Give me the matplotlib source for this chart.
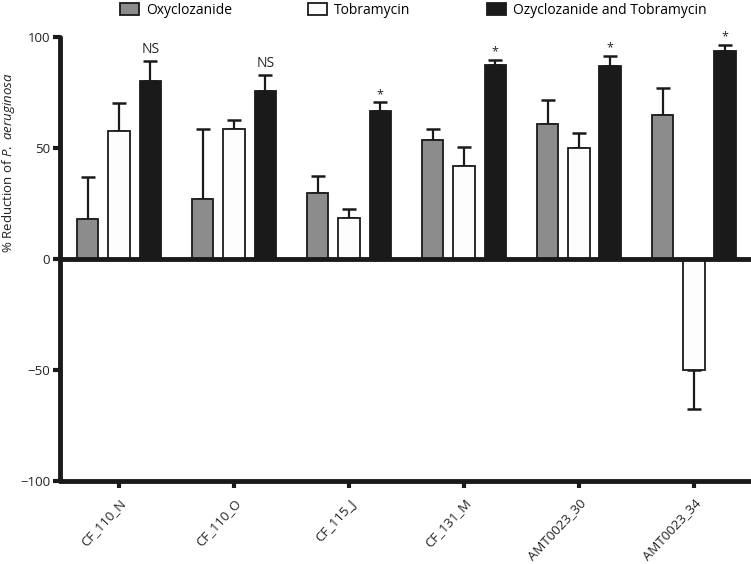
import numpy as np
import matplotlib
matplotlib.use("Agg")
import matplotlib.pyplot as plt
from matplotlib.transforms import ScaledTranslation

plt.rcParams["font.family"] = ["Open Sans", "DejaVu Sans"]
plt.rcParams["mathtext.fontset"] = "custom"
plt.rcParams["mathtext.rm"] = "Open Sans"
plt.rcParams["mathtext.it"] = "Open Sans:italic"

# data
strains = ["CF_110_N", "CF_110_O", "CF_115_J", "CF_131_M", "AMT0023_30", "AMT0023_34"]
series = ["Oxyclozanide", "Tobramycin", "Ozyclozanide and Tobramycin"]
oxy_mean = [18.2, 27.0, 29.8, 53.7, 60.6, 64.7]
oxy_err = [18.8, 31.5, 7.8, 4.7, 10.9, 12.2]
tob_mean = [57.5, 58.5, 18.4, 41.7, 50.0, -49.8]
tob_err = [12.8, 4.1, 3.9, 8.9, 6.6, 17.6]
comb_mean = [80.4, 75.8, 66.8, 87.6, 87.1, 93.8]
comb_err = [9.0, 7.2, 3.8, 2.2, 4.4, 2.7]
signif = ["NS", "NS", "*", "*", "*", "*"]

colors = ["#8c8c8c", "#fdfdfd", "#1a1a1a"]
edge = "#1a1a1a"
txt = "#222222"

fig = plt.figure(figsize=(7.51, 5.64), dpi=100)
ax = fig.add_axes([60 / 751, 83 / 564, 691 / 751, 444 / 564])

x = np.arange(len(strains))
step = 0.272
width = 0.187
means = [oxy_mean, tob_mean, comb_mean]
errs = [oxy_err, tob_err, comb_err]

for k in range(3):
    pos = x + (k - 1) * step
    m = np.array(means[k])
    e = np.array(errs[k])
    ax.bar(pos, m, width, color=colors[k], edgecolor=edge, linewidth=1.3,
           label=series[k], zorder=3)
    lower = np.where(m < 0, e, 0)
    upper = np.where(m >= 0, e, 0)
    ax.errorbar(pos, m, yerr=[lower, upper], fmt="none", ecolor=edge,
                elinewidth=1.6, capsize=5, capthick=1.8, zorder=2, clip_on=False)

# significance labels above the combination bars
for i, s in enumerate(signif):
    top = comb_mean[i] + comb_err[i]
    if s == "NS":
        ax.text(x[i] + step, top + 1.5, s, ha="center", va="bottom", fontsize=10, color=txt)
    else:
        ax.text(x[i] + step, top + 0.5, s, ha="center", va="bottom", fontsize=9, color=txt)

ax.axhline(0, color=edge, linewidth=3.5, zorder=4, solid_capstyle="butt")

ax.set_xlim(-0.513, 5.496)
ax.set_ylim(-100, 100)
ax.set_yticks([-100, -50, 0, 50, 100])
ax.set_xticks(x)
ax.set_xticklabels(strains, rotation=47, ha="right", va="top", rotation_mode="anchor")
shift = ScaledTranslation(4 / 100, 0, fig.dpi_scale_trans)
for lab in ax.get_xticklabels():
    lab.set_transform(lab.get_transform() + shift)

for side in ["top", "right"]:
    ax.spines[side].set_visible(False)
for side in ["left", "bottom"]:
    ax.spines[side].set_linewidth(3.5)
    ax.spines[side].set_color(edge)
    ax.spines[side].set_capstyle("round")

ax.tick_params(axis="y", length=5, width=3, color=edge, labelsize=9.5,
               labelcolor=txt, pad=2)
ax.tick_params(axis="x", length=5, width=3, color=edge, labelsize=9.5,
               labelcolor=txt, pad=6)

ax.set_ylabel(r"% Reduction of $P.\ aeruginosa$", fontsize=9.5, color=txt)
ax.yaxis.set_label_coords(-0.062, 0.716)

fig.legend(loc="upper left", bbox_to_anchor=(118.6 / 751, 0.998), ncol=3, frameon=False,
           fontsize=10, handlelength=1.37, handleheight=1.0, handletextpad=0.5,
           columnspacing=5.5, borderaxespad=0, borderpad=0.1)

fig.savefig("out.png", dpi=100)
